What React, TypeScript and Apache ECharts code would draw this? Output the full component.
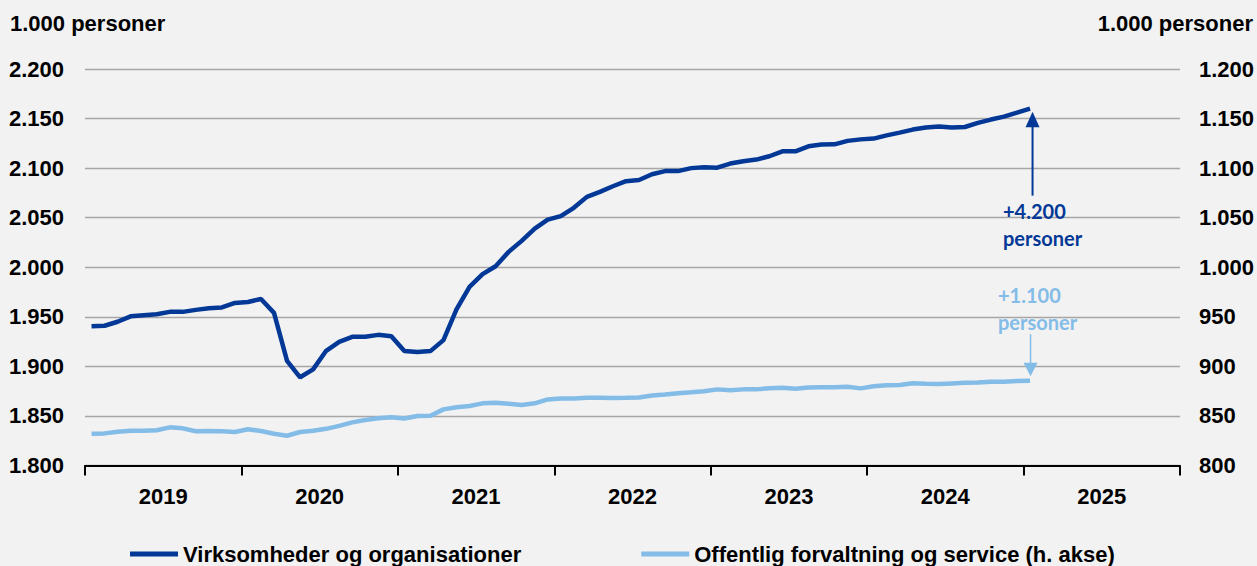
import React, { useEffect, useRef } from "react";
import * as echarts from "echarts";

const years = ["2019", "2020", "2021", "2022", "2023", "2024", "2025"];

// Monthly values, Jan 2019 – Jan 2025 (1.000 personer)
const virksomheder = [
  1940.5, 1941, 1945, 1950.5, 1951.5, 1952.5, 1955, 1955, 1957, 1958.7, 1959.5, 1964,
  1965, 1968, 1954, 1905.5, 1889, 1897, 1915.7, 1924.8, 1929.8, 1929.8, 1931.8, 1930.5,
  1915.5, 1914.4, 1915.4, 1926.5, 1957.4, 1980.2, 1993, 2001, 2015.5, 2026.6, 2039, 2048,
  2051.5, 2060, 2071, 2076, 2081.7, 2086.8, 2088, 2093.8, 2097, 2097, 2100, 2101,
  2100.5, 2104.6, 2107, 2108.6, 2112, 2117, 2117, 2122, 2123.8, 2124, 2127.5, 2129,
  2129.8, 2133, 2135.8, 2138.9, 2141, 2142, 2141, 2141.5, 2145.6, 2149, 2152, 2156,
  2160,
];

const offentlig = [
  832, 832.4, 834, 835, 835, 835.5, 838.5, 837.5, 834.5, 834.8, 834.5, 833.8,
  836.5, 834.8, 832, 830, 833.8, 835, 837, 840, 843.5, 845.9, 847.6, 848.6,
  847.5, 850, 850.2, 856.6, 858.7, 860, 862.7, 863.3, 862.3, 861, 862.7, 866.7,
  867.7, 867.7, 868.3, 868.3, 868, 868.3, 868.7, 870.7, 871.7, 872.8, 873.8, 875,
  876.8, 875.8, 876.8, 876.8, 878, 878.4, 877.4, 878.8, 879, 879, 879.4, 877.8,
  880, 881, 881.2, 883, 882.5, 882.2, 882.8, 883.4, 883.7, 884.5, 884.5, 885.2,
  885.5,
];

const seriesNames = ["Virksomheder og organisationer", "Offentlig forvaltning og service (h. akse)"];
const annotations = ["+4.200\npersoner", "+1.100\npersoner"];
const axisTitle = "1.000 personer";

const DARK = "#033897";
const LIGHT = "#84BCE8";
const FONT = "'Liberation Sans', Arial, sans-serif";
const NOTE_FONT = "Lato, 'Open Sans', sans-serif";
const FS = 22;

const fmt = (v: number) => {
  const s = String(Math.round(v));
  return s.replace(/\B(?=(\d{3})+(?!\d))/g, ".");
};

export default function App() {
  const ref = useRef<HTMLDivElement>(null);
  useEffect(() => {
    document.body.style.margin = "0";
    const chart = echarts.init(ref.current!, null, { renderer: "svg" });
    const toPts = (arr: number[]) => arr.map((v, i) => [i + 0.5, v]);
    const labelStyle = { color: "#000", fontWeight: "bold" as const, fontSize: FS, fontFamily: FONT };
    chart.setOption({
      animation: false,
      backgroundColor: "#F2F2F2",
      grid: { left: 85, right: 76, top: 69, bottom: 100.5, containLabel: false },
      xAxis: [
        {
          type: "value",
          min: 0,
          max: 84,
          interval: 12,
          axisLine: { show: true, onZero: false, lineStyle: { color: "#000", width: 2 } },
          axisTick: { show: true, length: 10, lineStyle: { color: "#000", width: 2 } },
          axisLabel: { show: false },
          splitLine: { show: false },
        },
        {
          type: "category",
          data: years,
          position: "bottom",
          boundaryGap: true,
          axisLine: { show: false },
          axisTick: { show: false },
          axisLabel: { ...labelStyle, margin: 20 },
          splitLine: { show: false },
        },
      ],
      yAxis: [
        {
          type: "value",
          min: 1800,
          max: 2200,
          interval: 50,
          axisLine: { show: false },
          axisTick: { show: false },
          axisLabel: { ...labelStyle, margin: 21, formatter: fmt },
          splitLine: { show: true, lineStyle: { color: "#A6A6A6", width: 1.3 } },
        },
        {
          type: "value",
          min: 800,
          max: 1200,
          interval: 50,
          position: "right",
          axisLine: { show: false },
          axisTick: { show: false },
          axisLabel: { ...labelStyle, margin: 19, formatter: fmt },
          splitLine: { show: false },
        },
      ],
      legend: {
        left: 130,
        top: 543,
        padding: 0,
        itemWidth: 48,
        itemHeight: 5,
        itemGap: 120,
        icon: "rect",
        textStyle: { ...labelStyle },
        data: seriesNames,
      },
      series: [
        {
          name: seriesNames[0],
          type: "line",
          xAxisIndex: 0,
          yAxisIndex: 0,
          data: toPts(virksomheder),
          showSymbol: false,
          symbol: "none",
          lineStyle: { color: DARK, width: 4.5 },
          itemStyle: { color: DARK },
          z: 3,
        },
        {
          name: seriesNames[1],
          type: "line",
          xAxisIndex: 0,
          yAxisIndex: 1,
          data: toPts(offentlig),
          showSymbol: false,
          symbol: "none",
          lineStyle: { color: LIGHT, width: 4.5 },
          itemStyle: { color: LIGHT },
          z: 2,
        },
      ],
    });

    const n = virksomheder.length - 1;
    const pd = chart.convertToPixel({ seriesIndex: 0 }, [n + 0.5, virksomheder[n]]) as number[];
    const pl = chart.convertToPixel({ seriesIndex: 1 }, [n + 0.5, offentlig[n]]) as number[];
    const dx = pd[0] + 2.5;
    const dTip = pd[1] + 3;
    const lx = pl[0] + 0.5;
    const lTip = pl[1] - 4.5;

    chart.setOption({
      graphic: [
        {
          type: "text",
          left: 10,
          top: 12,
          style: { text: axisTitle, fill: "#000", font: `bold ${FS}px ${FONT}` },
        },
        {
          type: "text",
          right: 4,
          top: 12,
          style: { text: axisTitle, fill: "#000", font: `bold ${FS}px ${FONT}` },
        },
        {
          type: "line",
          shape: { x1: dx, y1: dTip + 15, x2: dx, y2: dTip + 84 },
          style: { stroke: DARK, lineWidth: 2 },
        },
        {
          type: "polygon",
          shape: { points: [[dx, dTip], [dx - 7, dTip + 15.5], [dx + 7, dTip + 15.5]] },
          style: { fill: DARK },
        },
        {
          type: "text",
          x: 1003,
          y: dTip + 84 + 2,
          style: {
            text: annotations[0],
            fill: DARK,
            font: `bold 20px ${NOTE_FONT}`,
            lineHeight: 27,
          },
        },
        {
          type: "line",
          shape: { x1: lx, y1: lTip - 42, x2: lx, y2: lTip - 12 },
          style: { stroke: LIGHT, lineWidth: 1.5 },
        },
        {
          type: "polygon",
          shape: { points: [[lx, lTip], [lx - 7, lTip - 13.5], [lx + 7, lTip - 13.5]] },
          style: { fill: LIGHT },
        },
        {
          type: "text",
          x: 998,
          y: lTip - 95,
          style: {
            text: annotations[1],
            fill: LIGHT,
            font: `bold 20px ${NOTE_FONT}`,
            lineHeight: 27,
          },
        },
      ],
    });

    return () => chart.dispose();
  }, []);
  return <div ref={ref} style={{ position: "absolute", left: 0, top: 0, width: 1257, height: 566 }} />;
}
